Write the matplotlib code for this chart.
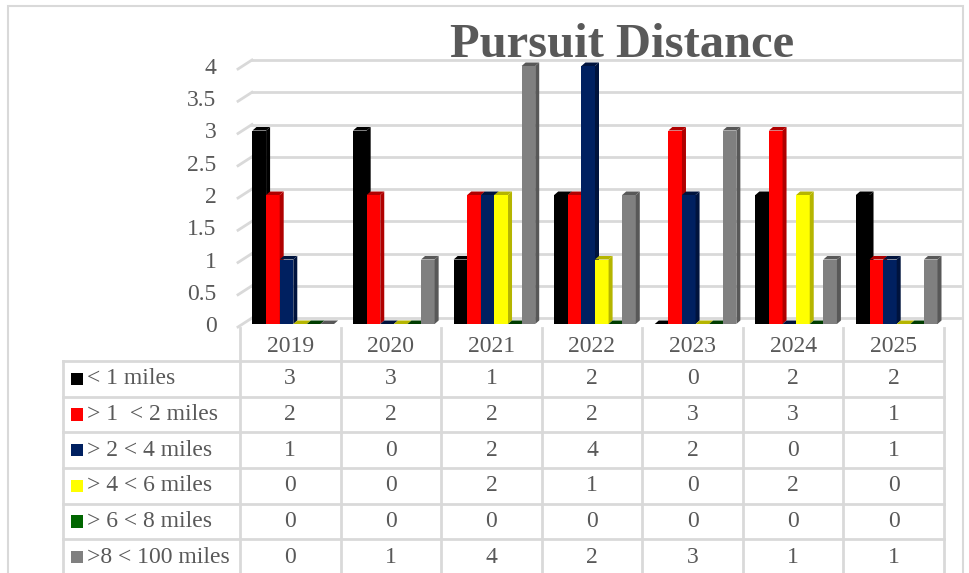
import matplotlib.pyplot as plt
from matplotlib.patches import Polygon, Rectangle

# data
years = ["2019", "2020", "2021", "2022", "2023", "2024", "2025"]
labels = ["< 1 miles", "> 1  < 2 miles", "> 2 < 4 miles", "> 4 < 6 miles",
          "> 6 < 8 miles", ">8 < 100 miles"]
lt1 = [3, 3, 1, 2, 0, 2, 2]
lt2 = [2, 2, 2, 2, 3, 3, 1]
lt4 = [1, 0, 2, 4, 2, 0, 1]
lt6 = [0, 0, 2, 1, 0, 2, 0]
lt8 = [0, 0, 0, 0, 0, 0, 0]
lt100 = [0, 1, 4, 2, 3, 1, 1]
series = [lt1, lt2, lt4, lt6, lt8, lt100]

front = ["#000000", "#ff0000", "#002060", "#ffff00", "#006600", "#808080"]
side = ["#000000", "#b00000", "#00133d", "#b5b500", "#003d00", "#585858"]
txt = "#595959"
line = "#d9d9d9"

plt.rcParams['font.family'] = ['Liberation Serif', 'DejaVu Serif']

W, H = 970, 573
fig = plt.figure(figsize=(W / 100, H / 100), dpi=100)

# outer chart border
fig.patches.append(Rectangle((8 / W, -0.01), (963 - 8) / W, 1.01 - 6 / H,
                             transform=fig.transFigure, fill=False,
                             ec=line, lw=1.5))

fig.text(622 / W, 1 - 57 / H, "Pursuit Distance", ha="center", va="baseline",
         fontsize=35, fontweight="bold", color=txt)

# ---- bar area
colw = 100.6
ax = fig.add_axes([240 / W, 1 - 324 / H, 704 / W, 258 / H])
ax.set_xlim(-0.5, 6.5)
ax.set_ylim(0, 4)
for s in ax.spines.values():
    s.set_visible(False)
ax.set_xticks([])
yt = [0, 0.5, 1, 1.5, 2, 2.5, 3, 3.5, 4]
ax.set_yticks(yt, [f"{v:g}" for v in yt])
ax.tick_params(axis="y", length=0, pad=17, labelsize=17, labelcolor=txt)

upx = 258 / 4  # pixels per unit
gdy = 6 / upx
for v in yt:
    ax.plot([-0.5 + 12 / colw, 6.5 + 16 / colw], [v + gdy, v + gdy],
            color=line, lw=2, clip_on=False, zorder=1)
    ax.plot([-0.5 - 2 / colw, -0.5 + 12 / colw], [v - 3 / upx, v + gdy],
            color=line, lw=2, clip_on=False, zorder=1)

bw = 13.6 / colw
ddx = 4 / colw
ddy = 3.5 / upx
for k, vals in enumerate(series):
    off = (-31 + 13.6 * k) / colw
    xs = [i + off for i in range(len(years))]
    z = 3 + k * 0.1
    ax.bar(xs, vals, bw, color=front[k], zorder=z)
    for x, h in zip(xs, vals):
        x0, x1 = x - bw / 2, x + bw / 2
        ax.add_patch(Polygon([(x1, 0), (x1 + ddx, ddy), (x1 + ddx, h + ddy),
                              (x1, h)], closed=True, fc=side[k], ec="none",
                             zorder=z, clip_on=False))
        ax.add_patch(Polygon([(x0, h), (x0 + ddx, h + ddy),
                              (x1 + ddx, h + ddy), (x1, h)], closed=True,
                             fc=side[k], ec="none", zorder=z, clip_on=False))

# ---- data table
left = -0.5 - (240 - 62.7) / colw
tab = fig.add_axes([62.7 / W, 1 - 575 / H, (944 - 62.7) / W, (575 - 328) / H])
tab.set_xlim(left, 6.5)
hdr = -33 / 35.6
tab.set_ylim(6, hdr)
tab.axis("off")
for r in range(7):
    tab.plot([left, 6.5], [r, r], color=line, lw=2, clip_on=False)
tab.plot([left, left], [0, 6], color=line, lw=2, clip_on=False)
for c in range(8):
    tab.plot([c - 0.5, c - 0.5], [hdr, 6], color=line, lw=2, clip_on=False)

for i, y in enumerate(years):
    tab.text(i, hdr / 2 + 0.05, y, ha="center", va="center", fontsize=17,
             color=txt)
for r, (lab, vals) in enumerate(zip(labels, series)):
    yc = r + 0.5
    tab.add_patch(Rectangle((left + 8.3 / colw, yc - 0.17), 11.7 / colw, 0.34,
                            fc=front[r], ec="none"))
    tab.text(left + 24.3 / colw, yc, lab, ha="left", va="center",
             fontsize=17, color=txt)
    for i, v in enumerate(vals):
        tab.text(i, yc, str(v), ha="center", va="center", fontsize=17,
                 color=txt)

fig.savefig("out.png", dpi=100)
